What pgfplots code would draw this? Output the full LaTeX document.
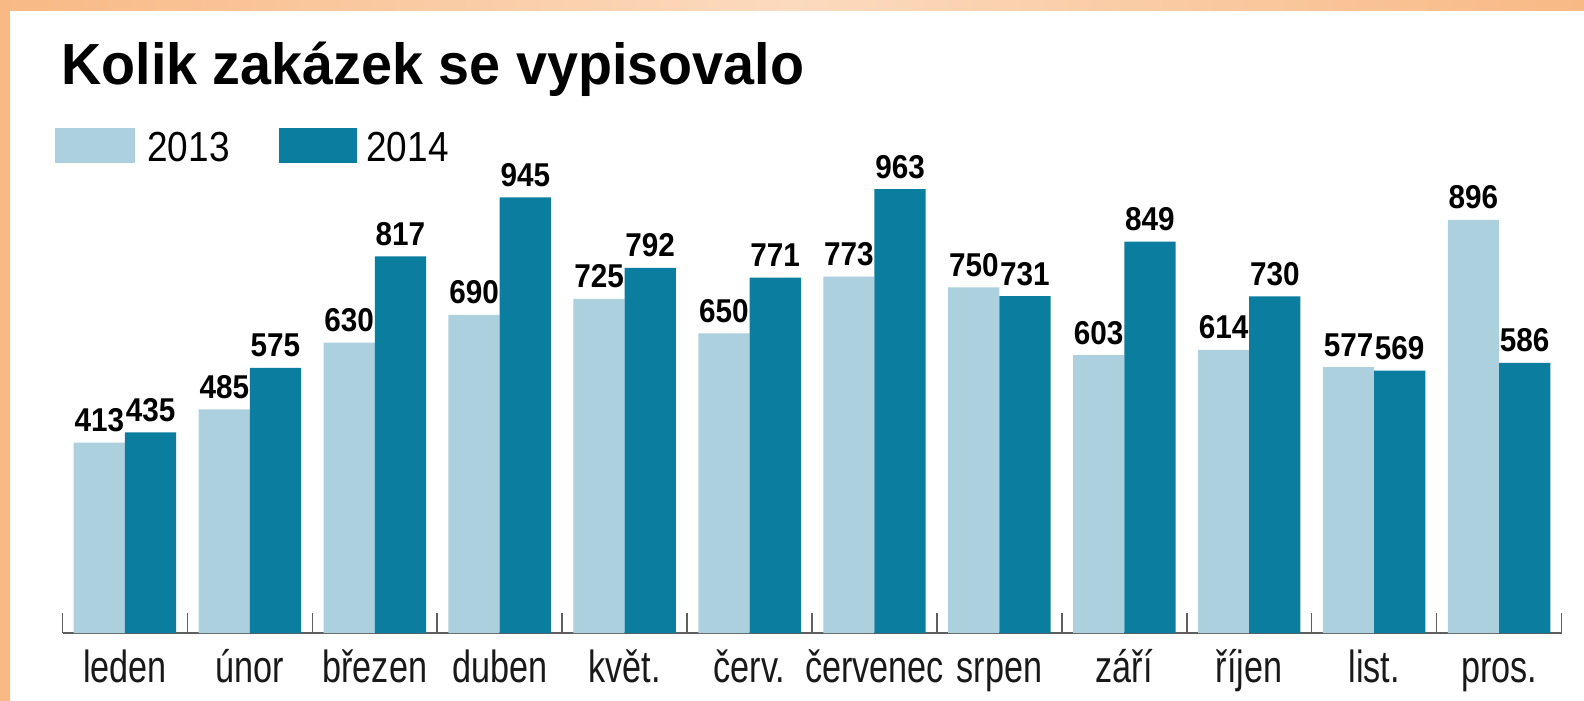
\documentclass[border=0pt]{standalone}
\usepackage{fontspec}
\setmainfont{Liberation Sans}
\newfontfamily\titlefont[FakeStretch=0.96]{Liberation Sans}
\newfontfamily\legfont[FakeStretch=0.88]{Liberation Sans}
\newfontfamily\narrowfont[FakeStretch=0.76]{Liberation Sans}
\newfontfamily\valfont[FakeStretch=0.9]{Liberation Sans}
\usepackage{pgfplots}
\pgfplotsset{compat=1.18}
\definecolor{c13}{RGB}{172,208,222}
\definecolor{c14}{RGB}{11,126,160}
\definecolor{orng}{RGB}{248,185,133}
\definecolor{orngl}{RGB}{252,218,190}
\definecolor{axgray}{RGB}{95,95,95}
\begin{document}
\begin{tikzpicture}
\begin{scope}[x=0.5pt,y=-0.5pt]
\useasboundingbox (0,0) rectangle (1584,701);
\fill[orng] (0,0) rectangle (1584,701);
\shade[left color=orng, right color=orng, middle color=orngl] (0,0) rectangle (1584,11);
\fill[white] (10,11) rectangle (1584,701);
\node[anchor=base west, inner sep=0, font=\titlefont\bfseries\fontsize{29pt}{29pt}\selectfont] at (61,85) {Kolik zakázek se vypisovalo};
\fill[c13] (55,128) rectangle (135,163);
\node[anchor=base west, inner sep=0, font=\legfont\fontsize{21pt}{21pt}\selectfont] at (147,162) {2013};
\fill[c14] (279,128) rectangle (357,163);
\node[anchor=base west, inner sep=0, font=\legfont\fontsize{21pt}{21pt}\selectfont] at (366,162) {2014};
\end{scope}
\begin{axis}[
  at={(31.25pt,-316.5pt)}, anchor=south west,
  scale only axis, width=749.5pt, height=230.5pt,
  xmin=-0.5, xmax=11.5, ymin=0, ymax=1000,
  axis y line=none, axis x line=bottom,
  x axis line style={-, axgray, line width=1.4pt},
  /pgf/number format/assume math mode=true,
  xtick={0,...,11},
  xticklabels={leden,únor,březen,duben,květ.,červ.,červenec,srpen,září,říjen,list.,pros.},
  major tick length=0pt,
  tick align=inside,
  xticklabel style={font=\narrowfont\fontsize{22.5pt}{22.5pt}\selectfont, text=black!90, anchor=base, yshift=-24.5pt},
  extra x ticks={-0.5,0.5,...,11.5},
  extra x tick labels={},
  extra x tick style={major tick length=10pt, tick style={axgray, line width=0.8pt}},
  every node near coord/.append style={font=\valfont\bfseries\fontsize{16.5pt}{16.5pt}\selectfont, anchor=base, yshift=5.5pt, inner sep=0pt, text=black},
]
\addplot[ybar, bar width=0.41, bar shift=-0.205, fill=c13, draw=none, nodes near coords,
  every node near coord/.append style={xshift=-12.8pt}]
 coordinates {(0,413)(1,485)(2,630)(3,690)(4,725)(5,650)(6,773)(7,750)(8,603)(9,614)(10,577)(11,896)};
\addplot[ybar, bar width=0.41, bar shift=0.205, fill=c14, draw=none, nodes near coords,
  every node near coord/.append style={xshift=12.8pt}]
 coordinates {(0,435)(1,575)(2,817)(3,945)(4,792)(5,771)(6,963)(7,731)(8,849)(9,730)(10,569)(11,586)};
\end{axis}
\end{tikzpicture}
\end{document}
